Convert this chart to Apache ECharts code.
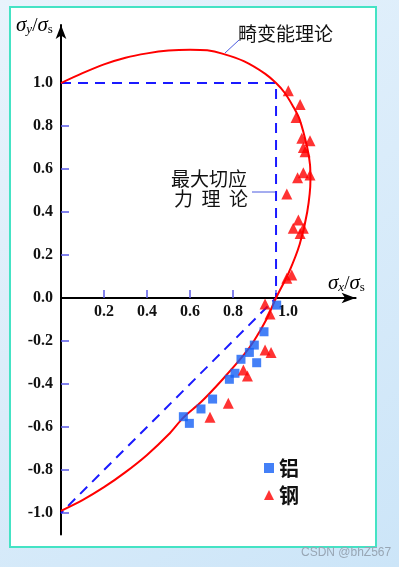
<!DOCTYPE html>
<html>
<head>
<meta charset="utf-8">
<script src="https://cdn.jsdelivr.net/npm/echarts@6/dist/echarts.min.js"></script>
<style>
  html, body { margin: 0; padding: 0; }
  #chart { width: 399px; height: 567px; }
</style>
</head>
<body>
<div id="chart"></div>
<script>
// 畸变能理论 (red curve)
const misesX = [0, 0.1, 0.2, 0.3, 0.4, 0.5, 0.6, 0.68, 0.75, 0.85, 0.95, 1.0, 1.04, 1.08, 1.11, 1.145, 1.158, 1.16, 1.145, 1.11, 1.06, 1.0, 0.955, 0.9, 0.85, 0.75, 0.65, 0.57, 0.5, 0.4, 0.3, 0.2, 0.1, 0];
const misesY = [1.0, 1.046, 1.087, 1.118, 1.138, 1.151, 1.155, 1.152, 1.137, 1.102, 1.043, 1.0, 0.955, 0.89, 0.83, 0.70, 0.62, 0.55, 0.40, 0.25, 0.12, 0.0, -0.10, -0.195, -0.265, -0.38, -0.485, -0.555, -0.635, -0.73, -0.81, -0.88, -0.94, -0.99];
// 最大切应力理论 (blue dashed)
const trescaX = [0, 1.0, 1.0, 0];
const trescaY = [1.0, 1.0, 0, -1.0];
// 铝 test points
const aluX = [1.003, 0.944, 0.899, 0.876, 0.837, 0.910, 0.809, 0.783, 0.705, 0.651, 0.569, 0.597];
const aluY = [-0.033, -0.157, -0.219, -0.253, -0.285, -0.301, -0.35, -0.378, -0.470, -0.516, -0.552, -0.583];
// 钢 test points
const steelX = [1.057, 1.112, 1.093, 1.12, 1.158, 1.127, 1.135, 1.127, 1.10, 1.158, 1.05, 1.104, 1.08, 1.127, 1.112, 1.073, 1.05, 0.949, 0.972, 0.949, 0.977, 0.848, 0.867, 0.778, 0.693];
const steelY = [0.964, 0.90, 0.84, 0.743, 0.732, 0.70, 0.68, 0.583, 0.56, 0.572, 0.484, 0.363, 0.324, 0.324, 0.30, 0.107, 0.092, -0.028, -0.074, -0.242, -0.253, -0.335, -0.363, -0.490, -0.555];
// tick labels
const xTicks = [0.2, 0.4, 0.6, 0.8, 1.0];
const yTicks = [-1.0, -0.8, -0.6, -0.4, -0.2, 0.0, 0.2, 0.4, 0.6, 0.8, 1.0];
const yTickMarks = [-1.0, -0.8, -0.6, -0.4, -0.2, 0.2, 0.4, 0.6, 0.8, 1.0];

const zip = (xs, ys) => xs.map((x, i) => [x, ys[i]]);

const chart = echarts.init(document.getElementById('chart'));

const nameRich = {
  a: { fontFamily: 'Liberation Serif', fontStyle: 'italic', fontSize: 21, lineHeight: 22, verticalAlign: 'bottom', color: '#000' },
  b: { fontFamily: 'Liberation Serif', fontStyle: 'italic', fontSize: 13, lineHeight: 12, verticalAlign: 'bottom', color: '#000' },
  c: { fontFamily: 'Liberation Serif', fontSize: 19, lineHeight: 22, verticalAlign: 'bottom', color: '#000' },
  s: { fontFamily: 'Liberation Serif', fontSize: 13, lineHeight: 12, verticalAlign: 'bottom', color: '#000' }
};

const option = {
  animation: false,
  backgroundColor: {
    type: 'linear', x: 0, y: 0, x2: 1, y2: 1,
    colorStops: [{ offset: 0, color: '#e8f3fc' }, { offset: 1, color: '#cce5f8' }]
  },
  grid: { left: 61, right: 43.4, top: 25, bottom: 32.5 },
  xAxis: {
    type: 'value',
    min: 0,
    max: 1.37,
    z: 3,
    position: 'bottom',
    offset: -236.5, // puts the axis on y = 0
    splitLine: { show: false },
    axisLine: { onZero: false, lineStyle: { color: '#000', width: 2 }, symbol: ['none', 'arrow'], symbolSize: [8, 14] },
    axisTick: { customValues: xTicks, inside: true, length: 8, lineStyle: { color: '#5a5ae6', width: 1.5 } },
    axisLabel: {
      customValues: xTicks,
      margin: 6,
      fontFamily: 'Liberation Serif',
      fontWeight: 'bold',
      fontSize: 16,
      color: '#111',
      formatter: v => (v === 1 ? '{r|1.0}' : v.toFixed(1)),
      rich: { r: { fontFamily: 'Liberation Serif', fontWeight: 'bold', fontSize: 16, color: '#111', padding: [0, 0, 0, 24] } }
    }
  },
  yAxis: {
    type: 'value',
    min: -1.1,
    max: 1.27,
    z: 3,
    splitLine: { show: false },
    axisLine: { onZero: false, lineStyle: { color: '#000', width: 2 }, symbol: ['none', 'arrow'], symbolSize: [8, 14] },
    axisTick: { customValues: yTickMarks, inside: true, length: 8, lineStyle: { color: '#5a5ae6', width: 1.5 } },
    axisLabel: {
      customValues: yTicks,
      margin: 8,
      fontFamily: 'Liberation Serif',
      fontWeight: 'bold',
      fontSize: 16,
      color: '#111',
      formatter: v => v.toFixed(1)
    }
  },
  legend: {
    data: ['铝', '钢'],
    orient: 'vertical',
    left: 259,
    top: 453,
    itemWidth: 10,
    itemHeight: 10,
    itemGap: 7,
    textStyle: { fontFamily: 'Noto Sans CJK SC', fontWeight: 'bold', fontSize: 20, color: '#111' }
  },
  graphic: [
    {
      type: 'rect', z: 0, silent: true,
      shape: { x: 10, y: 7, width: 366, height: 540 },
      style: { fill: '#fff', stroke: '#44e3c4', lineWidth: 2 }
    },
    {
      type: 'text', z: 100, left: 16, top: 15,
      style: { text: '{a|σ}{b|y}{c|/}{a|σ}{s|s}', rich: nameRich }
    },
    {
      type: 'text', z: 100, left: 328, top: 273,
      style: { text: '{a|σ}{b|x}{c|/}{a|σ}{s|s}', rich: nameRich }
    },
    {
      type: 'text', z: 100, left: 238, top: 24,
      style: { text: '畸变能理论', fontFamily: 'Noto Sans CJK SC', fontSize: 19, fill: '#111' }
    },
    {
      type: 'line', z: 100, shape: { x1: 225, y1: 53, x2: 239, y2: 40 },
      style: { stroke: '#4a5ae0', lineWidth: 1 }
    },
    {
      type: 'text', z: 100, left: 171, top: 169,
      style: { text: '最大切应', fontFamily: 'Noto Sans CJK SC', fontSize: 19, fill: '#111' }
    },
    {
      type: 'text', z: 100, left: 174, top: 189,
      style: { text: '力  理  论', fontFamily: 'Noto Sans CJK SC', fontSize: 19, fill: '#111' }
    },
    {
      type: 'line', z: 100, shape: { x1: 252, y1: 192, x2: 275, y2: 192 },
      style: { stroke: '#4a5ae0', lineWidth: 1 }
    },
    {
      type: 'text', z: 100, left: 301, top: 547,
      style: { text: 'CSDN @bhZ567', fontFamily: 'Liberation Sans', fontSize: 12, fill: '#98a6b4' }
    }
  ],
  series: [
    {
      name: '畸变能理论',
      type: 'line',
      data: zip(misesX, misesY),
      smooth: 0.3,
      showSymbol: false,
      lineStyle: { color: '#ff0000', width: 2 },
      z: 4
    },
    {
      name: '最大切应力理论',
      type: 'line',
      data: zip(trescaX, trescaY),
      showSymbol: false,
      lineStyle: { color: '#1a1aff', width: 2, type: [10, 7] },
      z: 3
    },
    {
      name: '铝',
      type: 'scatter',
      data: zip(aluX, aluY),
      symbol: 'rect',
      symbolSize: 9,
      itemStyle: { color: '#1560f5' },
      z: 5
    },
    {
      name: '钢',
      type: 'scatter',
      data: zip(steelX, steelY),
      symbol: 'triangle',
      symbolSize: 11,
      itemStyle: { color: '#ff0000' },
      z: 6
    }
  ]
};

chart.setOption(option);
</script>
</body>
</html>
